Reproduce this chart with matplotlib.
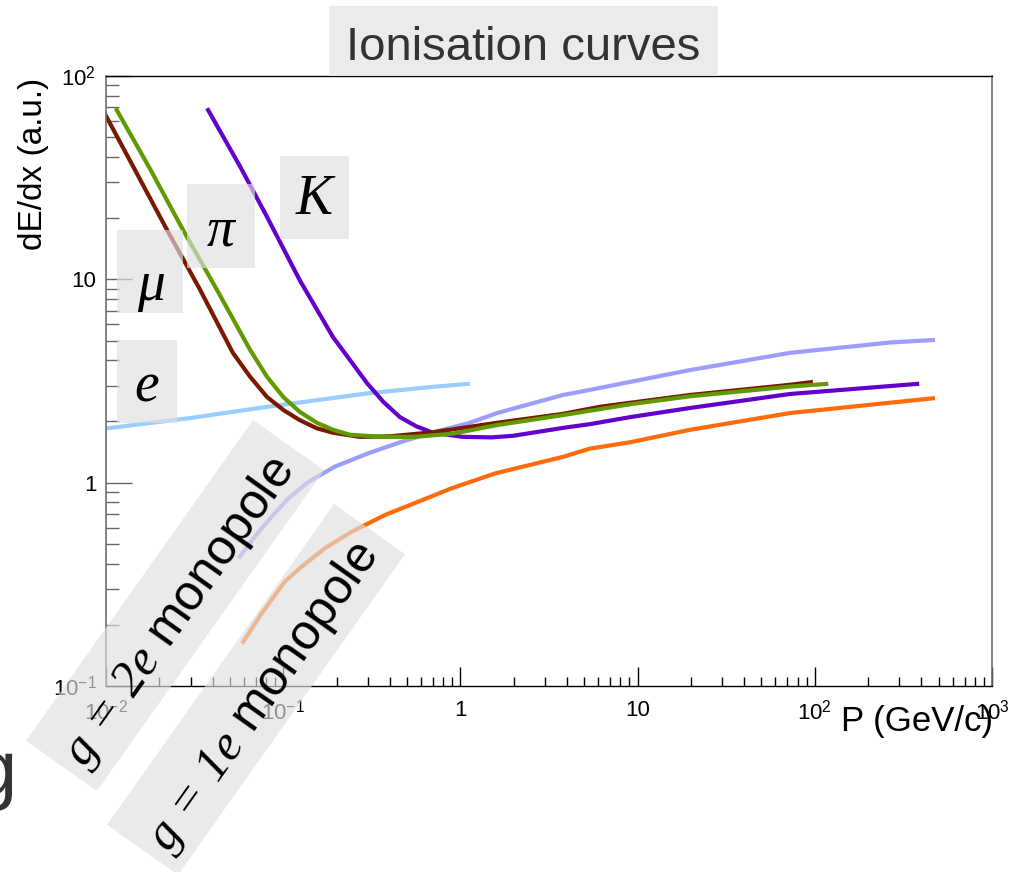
import matplotlib
matplotlib.use('Agg')
import matplotlib.pyplot as plt
from matplotlib.patches import Rectangle
from matplotlib.ticker import LogLocator, FixedLocator, FixedFormatter, NullFormatter

plt.rcParams['font.family'] = ['Liberation Sans', 'DejaVu Sans']
plt.rcParams['mathtext.fontset'] = 'custom'
plt.rcParams['mathtext.rm'] = 'Liberation Sans'
plt.rcParams['mathtext.it'] = 'Liberation Serif:italic'
plt.rcParams['mathtext.sf'] = 'Liberation Serif:italic'

# ---- data (P in GeV/c, dE/dx in a.u.) ----
muon_p = [0.0096, 0.0142, 0.0221, 0.034, 0.052, 0.065, 0.081, 0.10, 0.124, 0.155,
          0.191, 0.27, 0.40, 0.70, 1.61, 3.8, 6.1, 9.06, 19.8, 50, 72.5, 95]
muon_dedx = [68, 36, 17.5, 8.87, 4.35, 3.32, 2.64, 2.28, 2.03, 1.85,
             1.76, 1.68, 1.69, 1.77, 1.97, 2.18, 2.36, 2.47, 2.70, 2.93, 3.03, 3.12]

pion_p = [0.0115, 0.0177, 0.0272, 0.0423, 0.065, 0.081, 0.10, 0.124, 0.155, 0.191,
          0.238, 0.366, 0.55, 0.9, 1.61, 3.8, 9.06, 19.8, 72.5, 116]
pion_dedx = [68, 35, 17.5, 8.87, 4.5, 3.32, 2.64, 2.23, 1.97, 1.82,
             1.72, 1.68, 1.68, 1.74, 1.92, 2.15, 2.43, 2.66, 2.97, 3.06]

kaon_p = [0.0377, 0.057, 0.081, 0.124, 0.191, 0.297, 0.367, 0.456, 0.566, 0.70,
          1.03, 1.5, 1.98, 3.8, 5.38, 9.06, 19.8, 72.5, 378]
kaon_dedx = [68, 36, 20.3, 9.9, 5.2, 3.09, 2.5, 2.1, 1.89, 1.76,
             1.68, 1.67, 1.70, 1.86, 1.94, 2.10, 2.33, 2.73, 3.06]

elec_p = [0.0096, 0.03, 0.081, 0.3, 0.7, 1.1]
elec_dedx = [1.84, 2.08, 2.36, 2.75, 2.96, 3.06]

mono2_p = [0.057, 0.069, 0.086, 0.107, 0.139, 0.196, 0.302, 0.467, 0.72, 1.11,
           1.61, 3.8, 5.38, 9.06, 19.8, 72.5, 265, 464]
mono2_dedx = [0.433, 0.542, 0.68, 0.838, 1.01, 1.2, 1.395, 1.59, 1.78, 1.96,
              2.2, 2.7, 2.86, 3.13, 3.58, 4.35, 4.89, 5.03]

mono1_p = [0.0595, 0.0757, 0.102, 0.127, 0.172, 0.244, 0.376, 0.578, 0.893, 1.57,
           3.8, 5.38, 9.06, 19.8, 72.5, 464]
mono1_dedx = [0.165, 0.228, 0.326, 0.386, 0.476, 0.574, 0.694, 0.806, 0.939, 1.11,
              1.34, 1.47, 1.58, 1.82, 2.2, 2.6]

x_ticks = [1e-2, 1e-1, 1, 10, 1e2, 1e3]
x_tick_labels = ['$10^{-2}$', '$10^{-1}$', '1', '10', '$10^{2}$', '$10^{3}$']
y_ticks = [1e-1, 1, 10, 1e2]
y_tick_labels = ['$10^{-1}$', '1', '10', '$10^{2}$']

fig = plt.figure(figsize=(10.12, 8.72), dpi=100)
ax = fig.add_axes([106 / 1012, 186 / 872, 886 / 1012, 610 / 872])

lw = 3.0
ax.plot(elec_p, elec_dedx, color='#99ccff', lw=lw)
ax.plot(mono2_p, mono2_dedx, color='#9d9dff', lw=lw)
ax.plot(mono1_p, mono1_dedx, color='#ff6a0a', lw=lw)
ax.plot(kaon_p, kaon_dedx, color='#6400cc', lw=lw)
ax.plot(muon_p, muon_dedx, color='#7a1800', lw=lw)
ax.plot(pion_p, pion_dedx, color='#5f9a00', lw=lw)

ax.set_xscale('log')
ax.set_yscale('log')
ax.set_xlim(1e-2, 1e3)
ax.set_ylim(1e-1, 1e2)

ax.xaxis.set_major_locator(FixedLocator(x_ticks))
ax.xaxis.set_major_formatter(FixedFormatter(x_tick_labels))
ax.yaxis.set_major_locator(FixedLocator(y_ticks))
ax.yaxis.set_major_formatter(FixedFormatter(y_tick_labels))
ax.xaxis.set_minor_locator(LogLocator(base=10, subs=range(2, 10), numticks=20))
ax.yaxis.set_minor_locator(LogLocator(base=10, subs=range(2, 10), numticks=20))
ax.xaxis.set_minor_formatter(NullFormatter())
ax.yaxis.set_minor_formatter(NullFormatter())

ax.tick_params(which='both', direction='in', top=False, right=False, labelsize=16)
ax.tick_params(axis='x', which='major', length=13.5, width=1, pad=10, colors='black')
ax.tick_params(axis='x', which='minor', length=6.5, width=1, color='black')
ax.tick_params(axis='y', which='major', length=18.5, width=1, pad=7, color='#666666',
               labelcolor='black')
ax.tick_params(axis='y', which='minor', length=9.4, width=1, color='#666666')
for side in ['left', 'right']:
    ax.spines[side].set_color('#6e6e6e')
    ax.spines[side].set_linewidth(1.2)
for side in ['top', 'bottom']:
    ax.spines[side].set_color('black')
    ax.spines[side].set_linewidth(1.0)

# overlay in pixel coordinates for the grey label boxes
ov = fig.add_axes([0, 0, 1, 1], zorder=10)
ov.set_xlim(0, 1012)
ov.set_ylim(0, 872)
ov.axis('off')
ov.patch.set_alpha(0)

box_fc = '#e0e0e0'
box_alpha = 0.65

# title
ov.add_patch(Rectangle((329, 796), 389, 70, fc='#ebebeb', ec='none'))
ov.text(523, 812, 'Ionisation curves', ha='center', va='baseline', fontsize=34,
        color='#333333')

# axis titles
ov.text(34, 872 - 78, 'dE/dx (a.u.)', rotation=90, ha='center', va='top', fontsize=24)
ov.text(993, 872 - 705, 'P (GeV/c)', ha='right', va='top', fontsize=25)

# particle labels
greek = [('K', (280, 633, 69, 83), (314, 672)),
         ('π', (187, 604, 68, 84), (221, 640)),
         ('μ', (117, 559, 66, 83), (151, 586)),
         ('e', (117, 449, 60, 83), (147, 484))]
for lab, (bx, by, bw, bh), (tx, ty) in greek:
    ov.add_patch(Rectangle((bx, by), bw, bh, fc=box_fc, ec='none', alpha=box_alpha))
    ov.text(tx, ty, lab, ha='center', va='center', fontsize=40,
            family='Liberation Serif', style='italic')

# monopole labels (rotated)
ang = 54.7
ov.add_patch(Rectangle((97, 81), 393, 87, angle=ang, fc=box_fc, ec='none', alpha=box_alpha))
ov.text(180, 872 - 612, r'$\mathsf{g\/=\/2e}$ monopole', rotation=ang,
        ha='center', va='center', rotation_mode='anchor', fontsize=36)
ov.add_patch(Rectangle((178, -3), 393, 87, angle=ang, fc=box_fc, ec='none', alpha=box_alpha))
ov.text(264, 872 - 697, r'$\mathsf{g\/=\/1e}$ monopole', rotation=ang,
        ha='center', va='center', rotation_mode='anchor', fontsize=36)

# stray glyph at left edge
ov.text(-26, 77, 'g', ha='left', va='baseline', fontsize=56, color='#333333')

fig.savefig('out.png', dpi=100)
